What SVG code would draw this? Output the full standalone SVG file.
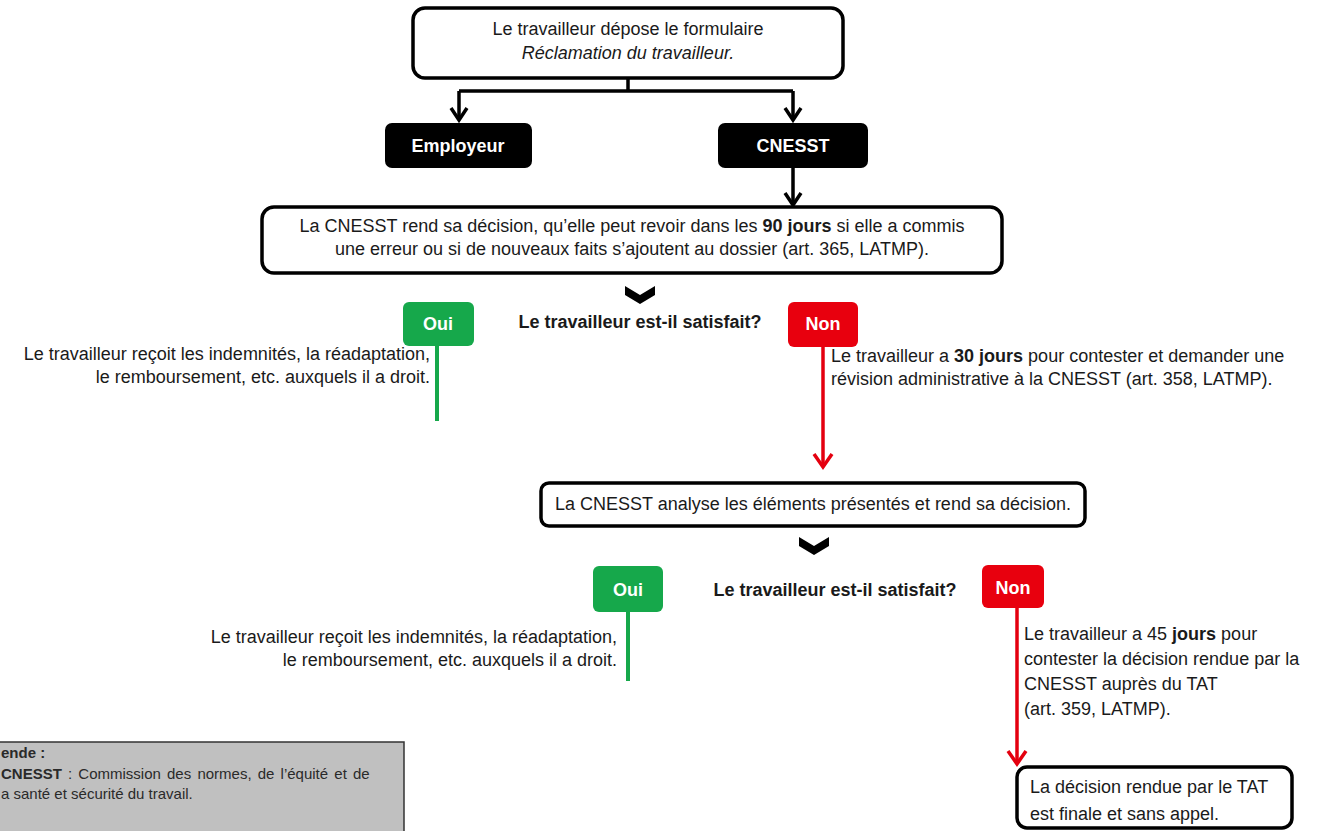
<svg xmlns="http://www.w3.org/2000/svg" width="1319" height="831" viewBox="0 0 1319 831">
<style>
text{font-family:"Liberation Sans",Arial,sans-serif;font-size:18px;fill:#1a1a1a}
.box{fill:#fff;stroke:#000;stroke-width:3.5}
.blk{fill:#000}
.wt{fill:#fff;font-weight:bold;text-anchor:middle}
.c{text-anchor:middle}
.e{text-anchor:end}
.b{font-weight:bold}
.ln{fill:none;stroke:#000;stroke-width:3.5}
.ah{fill:none;stroke:#000;stroke-width:3.5}
.g{fill:#16a84b}
.r{fill:#e8000e}
.gl{stroke:#16a84b;stroke-width:4;fill:none}
.rl{stroke:#e4000f;stroke-width:3.5;fill:none}
.leg{font-size:15px;fill:#2a2a2a}
</style>
<rect width="1319" height="831" fill="#fff"/>
<g id="connectors">
<path class="ln" d="M628,78 V91 M459,91 H793 M459,91 V119 M793,91 V119 M793,168 V205"/>
<polyline class="ah" points="451,108 459,120 467,108"/>
<polyline class="ah" points="785,108 793,120 801,108"/>
<polyline class="ah" points="785,193 793,205 801,193"/>
<path class="gl" d="M437,346 V421"/>
<path class="rl" d="M823,347 V466"/>
<polyline class="rl" points="814,454 823,467 832,454"/>
<path class="gl" d="M628,612 V681"/>
<path class="rl" d="M1017,608 V763"/>
<polyline class="rl" points="1008,751 1017,764 1026,751"/>
<polygon class="blk" points="625,286 640,295 655,286 655,295 640,304 625,295"/>
<polygon class="blk" points="799,537 814,546 829,537 829,546 814,555 799,546"/>
</g>
<g id="n-depose">
<rect class="box" x="413" y="8" width="430" height="70" rx="12"/>
<text class="c" x="628" y="35">Le travailleur dépose le formulaire</text>
<text class="c" x="628" y="59" font-style="italic">Réclamation du travailleur.</text>
</g>
<g id="n-employeur">
<rect class="blk" x="385" y="123" width="147" height="45" rx="7"/>
<text class="wt" x="458" y="152">Employeur</text>
</g>
<g id="n-cnesst">
<rect class="blk" x="718" y="123" width="150" height="45" rx="7"/>
<text class="wt" x="793" y="152">CNESST</text>
</g>
<g id="n-decision">
<rect class="box" x="262" y="207" width="740" height="66" rx="12"/>
<text class="c" x="632" y="232">La CNESST rend sa décision, qu’elle peut revoir dans les <tspan class="b">90 jours</tspan> si elle a commis</text>
<text class="c" x="632" y="255">une erreur ou si de nouveaux faits  s’ajoutent au dossier (art. 365, LATMP).</text>
</g>
<g id="n-question1">
<text class="c b" x="640" y="328" font-size="17.5">Le travailleur est-il satisfait?</text>
</g>
<g id="n-oui1">
<rect class="g" x="403" y="302" width="71" height="44" rx="6"/>
<text class="wt" x="438" y="330">Oui</text>
</g>
<g id="n-oui1-text">
<text class="e" x="430" y="360">Le travailleur reçoit les indemnités, la réadaptation,</text>
<text class="e" x="430" y="383">le remboursement, etc. auxquels il a droit.</text>
</g>
<g id="n-non1">
<rect class="r" x="788" y="302" width="70" height="45" rx="6"/>
<text class="wt" x="823" y="330">Non</text>
</g>
<g id="n-non1-text">
<text x="831" y="362">Le travailleur a <tspan class="b">30 jours</tspan> pour contester et demander une</text>
<text x="831" y="385">révision administrative à la CNESST (art. 358, LATMP).</text>
</g>
<g id="n-analyse">
<rect class="box" x="541" y="483" width="544" height="43" rx="8" stroke-width="2.5"/>
<text class="c" x="813" y="510">La CNESST analyse les éléments présentés et rend sa décision.</text>
</g>
<g id="n-question2">
<text class="c b" x="835" y="596" font-size="17.5">Le travailleur est-il satisfait?</text>
</g>
<g id="n-oui2">
<rect class="g" x="593" y="566" width="70" height="46" rx="6"/>
<text class="wt" x="628" y="596">Oui</text>
</g>
<g id="n-oui2-text">
<text class="e" x="617" y="643">Le travailleur reçoit les indemnités, la réadaptation,</text>
<text class="e" x="617" y="666">le remboursement, etc. auxquels il a droit.</text>
</g>
<g id="n-non2">
<rect class="r" x="982" y="565" width="62" height="43" rx="6"/>
<text class="wt" x="1013" y="594">Non</text>
</g>
<g id="n-non2-text">
<text x="1024" y="640">Le travailleur a 45 <tspan class="b">jours</tspan> pour</text>
<text x="1024" y="665">contester la décision rendue par la</text>
<text x="1024" y="690">CNESST auprès du TAT</text>
<text x="1024" y="715">(art. 359, LATMP).</text>
</g>
<g id="n-final">
<rect class="box" x="1017" y="767" width="275" height="61" rx="10"/>
<text x="1030" y="793">La décision rendue par le TAT</text>
<text x="1030" y="820">est finale et sans appel.</text>
</g>
<g id="legend">
<rect x="-2" y="742" width="406" height="95" fill="#c0c0c0" stroke="#333" stroke-width="1.5"/>
<text class="leg b" x="1" y="758">ende :</text>
<text class="leg" x="1" y="779" word-spacing="2"><tspan class="b">CNESST</tspan> : Commission  des normes, de l’équité et de</text>
<text class="leg" x="1" y="799">a santé et sécurité du travail.</text>
</g>
</svg>
